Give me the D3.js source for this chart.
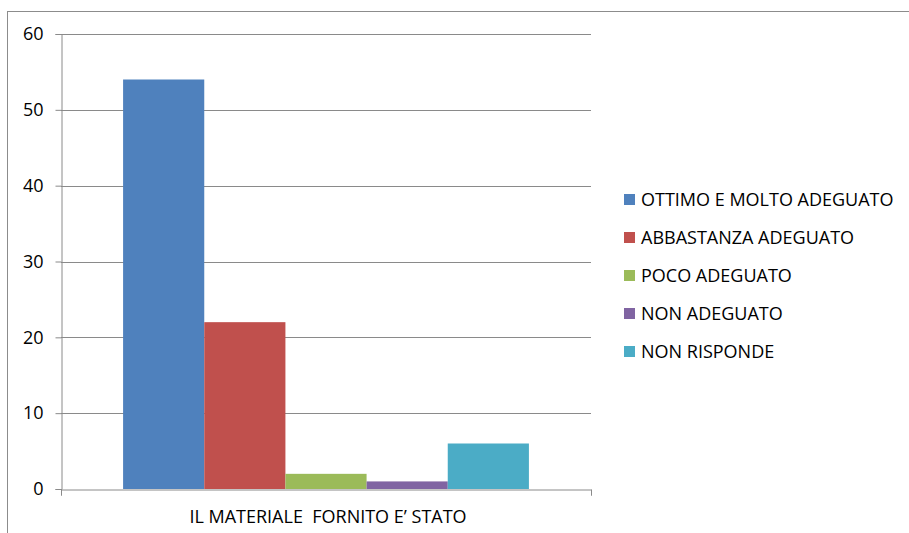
<!DOCTYPE html>
<html>
<head>
<meta charset="utf-8">
<script src="https://cdn.jsdelivr.net/npm/d3@7"></script>
<style>
  body { margin: 0; background: #fff; }
  text { font-family: "Open Sans", sans-serif; fill: #000; }
</style>
</head>
<body>
<div id="chart"></div>
<script>
// data
var category = "IL MATERIALE  FORNITO E\u2019 STATO";
var seriesNames = ["OTTIMO E MOLTO ADEGUATO", "ABBASTANZA ADEGUATO", "POCO ADEGUATO", "NON ADEGUATO", "NON RISPONDE"];
var seriesValues = [54, 22, 2, 1, 6];
var seriesColors = ["#4F81BD", "#C0504D", "#9BBB59", "#8064A2", "#4BACC6"];
var yTicks = [0, 10, 20, 30, 40, 50, 60];

var svgWidth = 909;
var svgHeight = 533;

var margin = { top: 34, right: 318, bottom: 44, left: 61 };
var width = svgWidth - margin.left - margin.right;
var height = svgHeight - margin.top - margin.bottom;

var svg = d3.select("#chart")
  .append("svg")
  .attr("width", svgWidth)
  .attr("height", svgHeight);

// outer chart border (cut off at right / bottom)
svg.append("rect")
  .attr("x", 7.5)
  .attr("y", 11.5)
  .attr("width", 940)
  .attr("height", 560)
  .attr("fill", "none")
  .attr("stroke", "#8c8c8c")
  .attr("stroke-width", 1);

var chartGroup = svg.append("g")
  .attr("transform", `translate(${margin.left}, ${margin.top})`);

var xBand = d3.scaleBand()
  .domain([category])
  .range([0, width])
  .paddingOuter(0.153)
  .paddingInner(0);

var xSeries = d3.scaleBand()
  .domain(seriesNames)
  .range([0, xBand.bandwidth()]);

var yScale = d3.scaleLinear()
  .domain([0, 60])
  .range([height, 0]);

// gridlines
chartGroup.append("g")
  .selectAll("line")
  .data(yTicks.filter(d => d > 0))
  .enter()
  .append("line")
  .attr("x1", 0)
  .attr("x2", width)
  .attr("y1", d => Math.round(yScale(d)) + 0.5)
  .attr("y2", d => Math.round(yScale(d)) + 0.5)
  .attr("stroke", "#8a8a8a")
  .attr("stroke-width", 1);

// bars
chartGroup.append("g")
  .selectAll("rect")
  .data(seriesValues)
  .enter()
  .append("rect")
  .attr("x", (d, i) => xBand(category) + xSeries(seriesNames[i]))
  .attr("width", xSeries.bandwidth())
  .attr("y", d => yScale(d))
  .attr("height", d => height - yScale(d))
  .attr("fill", (d, i) => seriesColors[i]);

// y axis
var yAxis = d3.axisLeft(yScale).tickValues(yTicks).tickSize(6).tickPadding(12);
var yG = chartGroup.append("g")
  .attr("transform", "translate(0.5,0)")
  .call(yAxis);
yG.select(".domain").attr("stroke", "#8a8a8a");
yG.selectAll(".tick line").attr("stroke", "#8a8a8a");
yG.selectAll(".tick text")
  .style("font-family", "'Open Sans', sans-serif")
  .style("font-size", "18px")
  .attr("fill", "#000");

// x axis
var xAxis = d3.axisBottom(d3.scaleLinear().domain([0, 1]).range([0, width]))
  .tickValues([0, 1]).tickSize(6).tickFormat("");
var xG = chartGroup.append("g")
  .attr("transform", `translate(0, ${height + 0.5})`)
  .call(xAxis);
xG.select(".domain").attr("stroke", "#8a8a8a");
xG.selectAll(".tick line").attr("stroke", "#8a8a8a");

chartGroup.append("text")
  .attr("x", width / 2 + 2)
  .attr("y", height + 34)
  .attr("text-anchor", "middle")
  .style("font-size", "18px")
  .style("white-space", "pre")
  .text(category);

// legend
var legend = svg.append("g")
  .attr("transform", "translate(624, 200)");

var items = legend.selectAll("g")
  .data(seriesNames)
  .enter()
  .append("g")
  .attr("transform", (d, i) => `translate(0, ${i * 38})`);

items.append("rect")
  .attr("x", 0)
  .attr("y", -6)
  .attr("width", 11)
  .attr("height", 11)
  .attr("fill", (d, i) => seriesColors[i]);

items.append("text")
  .attr("x", 17)
  .attr("y", 0)
  .attr("dy", "0.35em")
  .style("font-size", "18px")
  .text(d => d);
</script>
</body>
</html>
